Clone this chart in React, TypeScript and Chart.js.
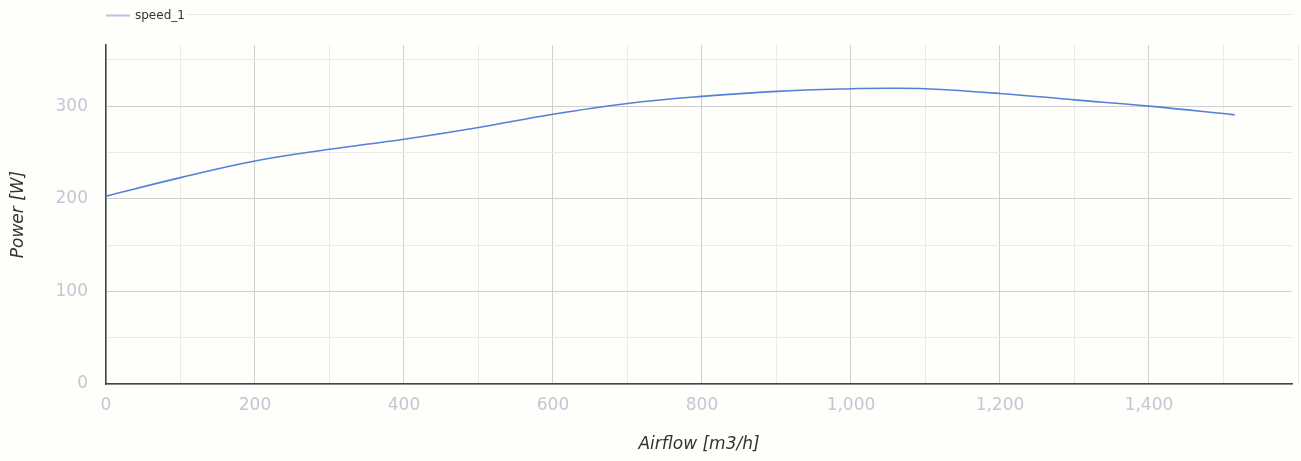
import React, { useEffect, useRef } from "react";
import { Chart, registerables } from "chart.js";

Chart.register(...registerables);

// ---- data ----
const airflow = [0, 100, 200, 300, 400, 500, 600, 700, 800, 900, 1000, 1050, 1100, 1200, 1300, 1400, 1515];
const power = [202.8, 222.8, 240.8, 253.4, 264.3, 277.0, 291.3, 302.9, 310.5, 315.9, 318.8, 319.3, 318.8, 313.7, 306.8, 300.0, 290.6];
const seriesLabel = "speed_1";

const xGridValues = [0, 100, 200, 300, 400, 500, 600, 700, 800, 900, 1000, 1100, 1200, 1300, 1400, 1500];
const yGridValues = [0, 50, 100, 150, 200, 250, 300, 350];
const xMin = 0;
const xMax = 1592;
const yMin = 0;
const yMax = 366;
const extraXGrid = [1600];
const extraYGrid = [400];
const xLabelStep = 200;
const yLabelStep = 100;

const xTitle = "Airflow [m3/h]";
const yTitle = "Power [W]";

// ---- styles ----
const FONT = "'DejaVu Sans', 'Liberation Sans', sans-serif";
const BG = "#fefefa";
const LINE_COLOR = "#5381d8";
const LEGEND_LINE_COLOR = "#b3c5e8";
const MAJOR_GRID = "#cfcfcf";
const MINOR_GRID = "#eaeaea";
const AXIS_COLOR = "#444444";
const TICK_COLOR = "#c2c7d5";
const TITLE_COLOR = "#333333";

const bgPlugin = {
  id: "bgFill",
  beforeDraw(chart: any) {
    const { ctx, width, height } = chart;
    ctx.save();
    ctx.fillStyle = BG;
    ctx.fillRect(0, 0, width, height);
    ctx.restore();
  },
};

const legendFontSize = 12;

const extrasPlugin = {
  id: "extrasAndLegend",
  beforeDatasetsDraw(chart: any) {
    const { ctx, chartArea } = chart;
    const xs = chart.scales.x;
    const ys = chart.scales.y;
    ctx.save();
    ctx.font = `${legendFontSize}px ${FONT}`;
    const textW = ctx.measureText(chart.data.datasets[0].label).width;
    const legendEnd = chartArea.left + 29 + textW + 1;
    ctx.strokeStyle = MINOR_GRID;
    ctx.lineWidth = 1;
    for (const v of extraYGrid) {
      const py = Math.round(ys.getPixelForValue(v)) + 0.5;
      ctx.beginPath();
      ctx.moveTo(legendEnd, py);
      ctx.lineTo(chartArea.right, py);
      ctx.stroke();
    }
    for (const v of extraXGrid) {
      const px = Math.round(xs.getPixelForValue(v)) + 0.5;
      ctx.beginPath();
      ctx.moveTo(px, chartArea.top);
      ctx.lineTo(px, chartArea.bottom);
      ctx.stroke();
    }
    ctx.restore();
  },
  afterDraw(chart: any) {
    const { ctx, chartArea } = chart;
    const ds = chart.data.datasets[0];
    const ly = 15.5;
    ctx.save();
    ctx.strokeStyle = LEGEND_LINE_COLOR;
    ctx.lineWidth = 2;
    ctx.beginPath();
    ctx.moveTo(chartArea.left, ly);
    ctx.lineTo(chartArea.left + 24, ly);
    ctx.stroke();
    ctx.fillStyle = TITLE_COLOR;
    ctx.font = `${legendFontSize}px ${FONT}`;
    ctx.textBaseline = "middle";
    ctx.textAlign = "left";
    ctx.fillText(ds.label, chartArea.left + 29, ly + 0.5);
    ctx.restore();
  },
};

export default function App() {
  const canvasRef = useRef<HTMLCanvasElement | null>(null);

  useEffect(() => {
    document.body.style.margin = "0";
    document.body.style.background = BG;
    const canvas = canvasRef.current;
    if (!canvas) return;
    Chart.defaults.font.family = FONT;

    const chart = new Chart(canvas, {
      type: "line",
      data: {
        datasets: [
          {
            label: seriesLabel,
            data: airflow.map((x, i) => ({ x, y: power[i] })),
            borderColor: LINE_COLOR,
            backgroundColor: LINE_COLOR,
            borderWidth: 1.6,
            pointRadius: 0,
            pointHoverRadius: 0,
            fill: false,
            tension: 0.4,
          },
        ],
      },
      plugins: [bgPlugin, extrasPlugin],
      options: {
        animation: false,
        responsive: true,
        maintainAspectRatio: false,
        layout: { padding: { top: 45, right: 9, bottom: 0, left: 0 } },
        plugins: {
          legend: { display: false },
          tooltip: { enabled: false },
        },
        scales: {
          x: {
            type: "linear",
            min: xMin,
            max: xMax,
            afterBuildTicks: (scale: any) => {
              scale.ticks = xGridValues.map((v) => ({ value: v }));
            },
            afterFit: (scale: any) => {
              scale.height = 77;
            },
            grid: {
              drawTicks: false,
              lineWidth: 1,
              color: (c: any) =>
                c.tick && c.tick.value % xLabelStep === 0 ? MAJOR_GRID : MINOR_GRID,
            },
            border: { display: true, color: AXIS_COLOR, width: 1.5 },
            ticks: {
              autoSkip: false,
              maxRotation: 0,
              padding: 11,
              color: TICK_COLOR,
              font: { size: 17, family: FONT },
              callback: (v: any) =>
                Number(v) % xLabelStep === 0 ? Number(v).toLocaleString("en-US") : "",
            },
            title: {
              display: true,
              text: xTitle,
              color: TITLE_COLOR,
              font: { size: 17, style: "italic", family: FONT },
              padding: { top: 0, bottom: 6 },
            },
          },
          y: {
            type: "linear",
            min: yMin,
            max: yMax,
            afterBuildTicks: (scale: any) => {
              scale.ticks = yGridValues.map((v) => ({ value: v }));
            },
            afterFit: (scale: any) => {
              scale.width = 106;
            },
            grid: {
              drawTicks: false,
              lineWidth: 1,
              color: (c: any) =>
                c.tick && c.tick.value % yLabelStep === 0 ? MAJOR_GRID : MINOR_GRID,
            },
            border: { display: true, color: AXIS_COLOR, width: 1.5 },
            ticks: {
              autoSkip: false,
              padding: 18,
              color: TICK_COLOR,
              font: { size: 17, family: FONT },
              callback: (v: any) =>
                Number(v) % yLabelStep === 0 ? Number(v).toLocaleString("en-US") : "",
            },
            title: {
              display: true,
              text: yTitle,
              color: TITLE_COLOR,
              font: { size: 17, style: "italic", family: FONT },
              padding: { top: 8, bottom: 0 },
            },
          },
        },
      } as any,
    });

    return () => chart.destroy();
  }, []);

  return (
    <div style={{ position: "absolute", left: 0, top: 0, width: 1301, height: 461, background: BG }}>
      <canvas ref={canvasRef} />
    </div>
  );
}
